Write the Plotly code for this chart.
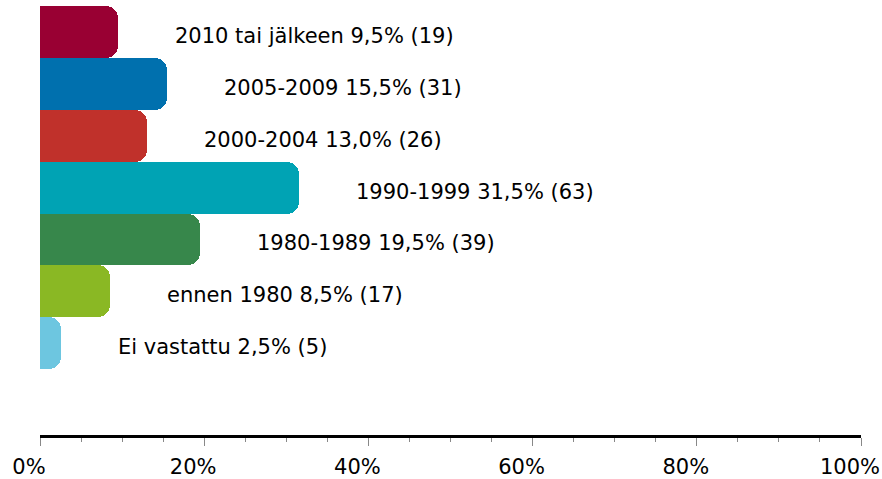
import plotly.graph_objects as go

categories = ["2010 tai jälkeen", "2005-2009", "2000-2004", "1990-1999", "1980-1989", "ennen 1980", "Ei vastattu"]
percents = [9.5, 15.5, 13.0, 31.5, 19.5, 8.5, 2.5]
counts = [19, 31, 26, 63, 39, 17, 5]
colors = ["#990033", "#0070AE", "#C0312B", "#00A3B4", "#37874B", "#8AB824", "#6DC6E0"]
tick_vals = [0, 20, 40, 60, 80, 100]
tick_text = ["0%", "20%", "40%", "60%", "80%", "100%"]

font_family = "DejaVu Sans, sans-serif"

fig = go.Figure()
order = list(range(len(categories)))[::-1]
fig.add_trace(go.Bar(
    x=[percents[i] for i in order],
    y=[categories[i] for i in order],
    orientation="h",
    marker=dict(color=[colors[i] for i in order], line=dict(width=0), cornerradius=12),
    width=1.0,
    hoverinfo="skip",
))

annotations = []
for c, p, n in zip(categories, percents, counts):
    txt = f"{c} {p:.1f}".replace(".", ",") + f"% ({n})"
    annotations.append(dict(
        x=p, y=c, xref="x", yref="y", text=txt, showarrow=False,
        xanchor="left", yanchor="middle", xshift=55, yshift=-4,
        font=dict(family=font_family, size=21, color="#000000"),
    ))

fig.update_layout(
    width=882, height=479,
    margin=dict(l=40, r=21, t=6, b=44),
    paper_bgcolor="white", plot_bgcolor="white",
    showlegend=False,
    bargap=0,
    annotations=annotations,
    xaxis=dict(
        range=[0, 100], tickvals=tick_vals, ticktext=tick_text,
        showgrid=False, zeroline=False, automargin=False, ticklabeloverflow="allow",
        showline=True, linecolor="#000000", linewidth=3,
        ticks="outside", ticklen=8, tickwidth=1, tickcolor="#888888",
        ticklabelstandoff=3, ticklabelshift=-11,
        minor=dict(dtick=5, ticks="outside", ticklen=4, tickwidth=1, tickcolor="#888888", showgrid=False),
        tickfont=dict(family=font_family, size=21, color="#000000"),
        fixedrange=True,
    ),
    yaxis=dict(
        categoryorder="array", categoryarray=categories[::-1],
        range=[-1.77, 6.5], automargin=False,
        showticklabels=False, showgrid=False, zeroline=False, showline=False, ticks="",
        fixedrange=True,
    ),
)

fig.write_html(
    "out.html",
    config={"displayModeBar": False},
    post_script="document.body.style.margin='0';document.body.style.padding='0';",
)
